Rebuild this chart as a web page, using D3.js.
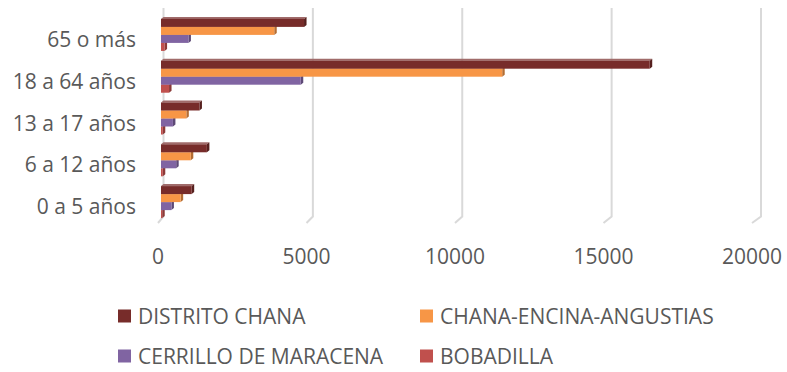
<!DOCTYPE html>
<html>
<head>
<meta charset="utf-8">
<script src="https://cdn.jsdelivr.net/npm/d3@7"></script>
<style>
  html, body { margin: 0; padding: 0; background: #ffffff; }
  svg { display: block; }
  text { font-family: "Open Sans", sans-serif; fill: #595959; }
</style>
</head>
<body>
<svg id="chart" width="787" height="372"></svg>
<script>
// Population by age group and area
const categories = ["65 o más", "18 a 64 años", "13 a 17 años", "6 a 12 años", "0 a 5 años"];
const seriesNames = ["DISTRITO CHANA", "CHANA-ENCINA-ANGUSTIAS", "CERRILLO DE MARACENA", "BOBADILLA"];
const distritoChana = [4800, 16400, 1290, 1540, 1030];
const chanaEncinaAngustias = [3800, 11450, 850, 1000, 660];
const cerrilloDeMaracena = [920, 4690, 400, 510, 350];
const bobadilla = [120, 270, 60, 60, 40];
const xTicks = [0, 5000, 10000, 15000, 20000];
const seriesColors = ["#772C2A", "#F79646", "#8064A2", "#C0504D"];

const seriesValues = [distritoChana, chanaEncinaAngustias, cerrilloDeMaracena, bobadilla];

const svg = d3.select("#chart");
const fontSize = 21;

// 3D box geometry: back wall, floor front edge, bar depth
const wallTop = 8, floorBack = 216.5, floorFront = 223;
const xFront = d3.scaleLinear().domain([0, 20000]).range([158, 752]);
const xBack = d3.scaleLinear().domain([0, 20000]).range([163.5, 761]);
const xBar = d3.scaleLinear().domain([0, 20000]).range([161, 757]);

const y0 = d3.scaleBand().domain(categories).range([14, 223]).padding(0);
const y1 = d3.scaleBand().domain(seriesNames).range([0, y0.bandwidth()]).paddingInner(0).paddingOuter(0.61);

// gridlines: vertical on the back wall, slanting across the floor
const grid = svg.append("g");
xTicks.forEach(t => {
  grid.append("polyline")
    .attr("points", [[xBack(t), wallTop], [xBack(t), floorBack], [xFront(t), floorFront]].join(" "))
    .attr("fill", "none")
    .attr("stroke", "#D9D9D9")
    .attr("stroke-width", 2);
});

// x axis tick labels
svg.append("g").selectAll("text").data(xTicks).join("text")
  .attr("x", d => xFront(d))
  .attr("y", 264)
  .attr("text-anchor", "middle")
  .attr("font-size", fontSize)
  .text(d => d);

// category labels
svg.append("g").selectAll("text").data(categories).join("text")
  .attr("x", 136)
  .attr("y", d => y0(d) + y0.bandwidth() / 2 + 12)
  .attr("text-anchor", "end")
  .attr("font-size", fontSize)
  .text(d => d);

// bars with a shallow 3D depth (top and right faces)
const depthX = 2.5, depthY = 2;
const bars = svg.append("g");
for (let s = seriesNames.length - 1; s >= 0; s--) {
  const name = seriesNames[s];
  const base = d3.color(seriesColors[s]);
  const topCol = d3.interpolateRgb(base, "#ffffff")(0.3);
  const sideCol = base.darker(0.9);
  categories.forEach((c, i) => {
    const v = seriesValues[s][i];
    const x0 = xBar(0), x1 = xBar(v);
    const y = y0(c) + y1(name), h = y1.bandwidth();
    const g = bars.append("g");
    g.append("polygon")
      .attr("points", [[x0, y], [x0 + depthX, y - depthY], [x1 + depthX, y - depthY], [x1, y]].join(" "))
      .attr("fill", topCol);
    g.append("polygon")
      .attr("points", [[x1, y], [x1 + depthX, y - depthY], [x1 + depthX, y + h - depthY], [x1, y + h]].join(" "))
      .attr("fill", sideCol);
    g.append("rect")
      .attr("x", x0).attr("y", y)
      .attr("width", Math.max(0, x1 - x0)).attr("height", h)
      .attr("fill", base.formatHex());
  });
}

// legend, two columns
const legendPos = [[118, 316], [420, 316], [118, 356], [420, 356]];
const legend = svg.append("g");
seriesNames.forEach((name, i) => {
  const [lx, ly] = legendPos[i];
  legend.append("rect")
    .attr("x", lx).attr("y", ly - 6.5)
    .attr("width", 13).attr("height", 13)
    .attr("fill", seriesColors[i]);
  legend.append("text")
    .attr("x", lx + 20).attr("y", ly + 7.5)
    .attr("font-size", fontSize)
    .text(name);
});
</script>
</body>
</html>
